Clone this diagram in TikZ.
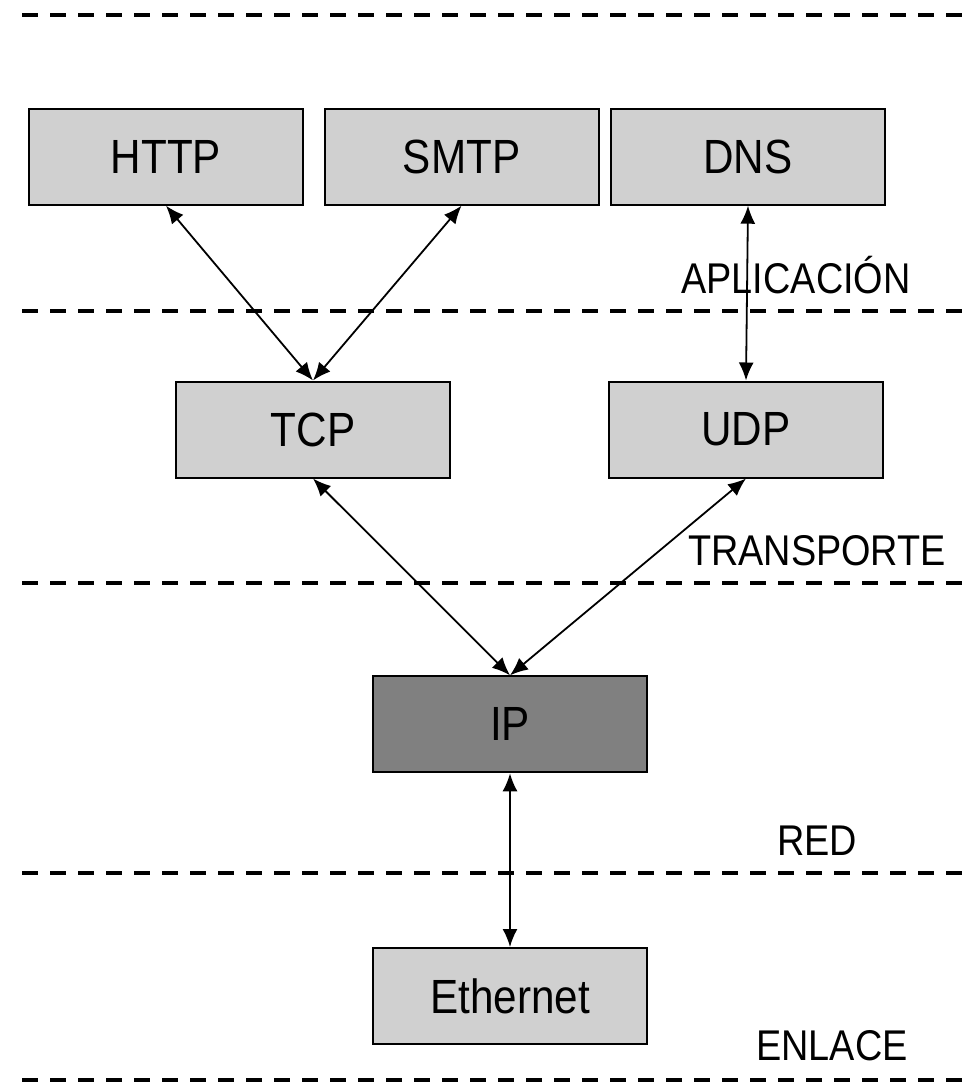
\documentclass[tikz,border=0pt]{standalone}
\usepackage{fontspec}
\setmainfont{Liberation Sans}[FakeStretch=0.88]
\usetikzlibrary{arrows.meta}
\definecolor{boxgray}{HTML}{D0D0D0}
\definecolor{ipgray}{HTML}{808080}
\begin{document}
\begin{tikzpicture}[x=1pt,y=-1pt,
  proto/.style={draw=black,line width=2pt,fill=boxgray,minimum width=274pt,
    minimum height=96pt,inner sep=0pt,font=\fontsize{48}{50}\selectfont},
  layerlabel/.style={anchor=base,inner sep=0pt,font=\fontsize{43}{46}\selectfont},
  divider/.style={line width=4pt,dash pattern=on 16pt off 12pt},
  link/.style={line width=1.8pt,
    arrows={Latex[length=18pt,width=15pt]-Latex[length=18pt,width=15pt]}}]
\useasboundingbox (0,0) rectangle (962,1082);

% layer separators
\foreach \yy in {15,311,582.5,873,1080}
  \draw[divider] (22,\yy) -- (962,\yy);

% protocol boxes
\node[proto] (http) at (166,156.7) {HTTP};
\node[proto] (smtp) at (461.5,156.7) {SMTP};
\node[proto] (dns)  at (748,156.7) {DNS};
\node[proto] (tcp)  at (313,429.5) {TCP};
\node[proto] (udp)  at (746,429.5) {UDP};
\node[proto,fill=ipgray] (ip) at (510,724.3) {IP};
\node[proto] (eth)  at (510,996) {Ethernet};

% layer names
\node[layerlabel] (lapp) at (796,293) {APLICACIÓN};
\node[layerlabel] (ltra) at (817,565) {TRANSPORTE};
\node[layerlabel] (lred) at (817,855) {RED};
\node[layerlabel] (lenl) at (832,1060.7) {ENLACE};

% connections between layers
\draw[link] (http.south) -- (tcp.north);
\draw[link] (smtp.south) -- (tcp.north);
\draw[link] (dns.south) -- (udp.north);
\draw[link] (tcp.south) -- (ip.north);
\draw[link] (udp.south) -- (ip.north);
\draw[link] (ip.south) -- (eth.north);
\end{tikzpicture}
\end{document}
